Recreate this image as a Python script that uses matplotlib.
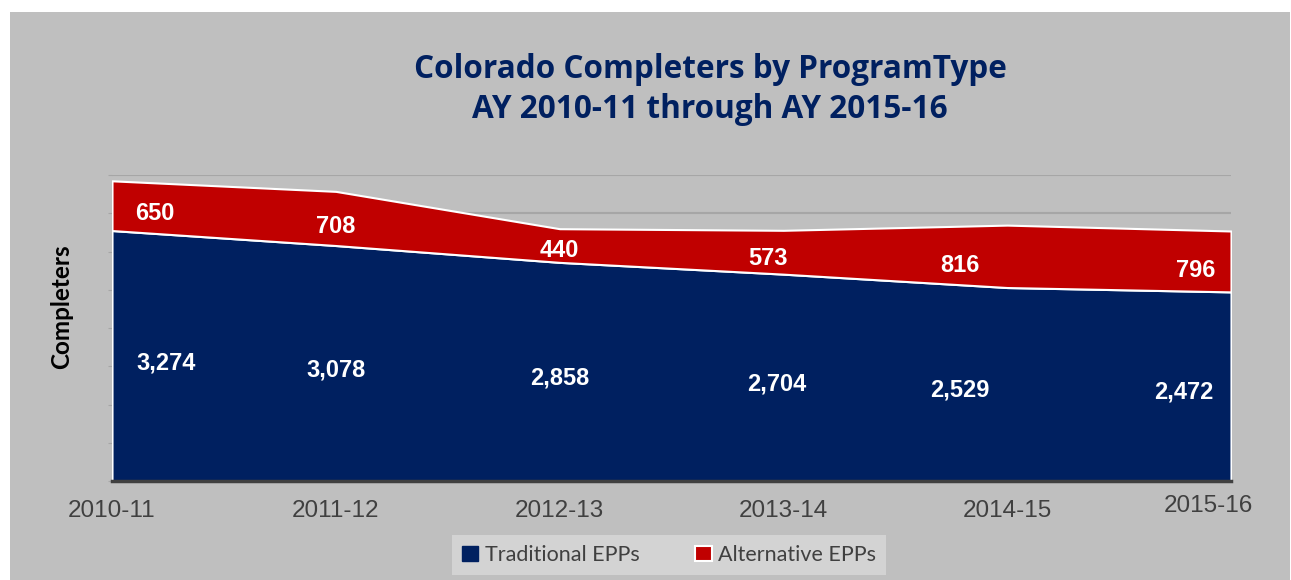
import matplotlib
matplotlib.use("Agg")
import matplotlib.pyplot as plt
import matplotlib.transforms as mtransforms
from matplotlib.patches import Rectangle
import numpy as np

# data
years = ["2010-11", "2011-12", "2012-13", "2013-14", "2014-15", "2015-16"]
traditional = [3274, 3078, 2858, 2704, 2529, 2472]
alternative = [650, 708, 440, 573, 816, 796]

# label nudges (in category units) to mimic Excel's placement
trad_dx = [0.24, 0.0, 0.0, -0.03, -0.21, -0.21]
alt_dx = [0.19, 0.0, 0.0, -0.07, -0.21, -0.16]

navy = "#002060"
red = "#C00000"
bg = "#BFBFBF"
txt = "#404040"

W, H = 1291, 580
fig = plt.figure(figsize=(W / 100, H / 100), dpi=100)
fig.patch.set_facecolor("white")
fig.patches.append(Rectangle((10 / W, 0), 1280 / W, 568 / H, transform=fig.transFigure,
                             facecolor=bg, edgecolor="none", zorder=-10))

ax = fig.add_axes([112 / W, (H - 481) / H, (1231 - 112) / W, (481 - 175) / H])
ax.set_facecolor(bg)
ax.patch.set_alpha(0)

x = np.arange(len(years))
trad = np.array(traditional)
alt = np.array(alternative)

ax.fill_between(x, 0, trad, facecolor=navy, edgecolor="white", linewidth=1.5, zorder=2,
                label="Traditional EPPs")
ax.fill_between(x, trad, trad + alt, facecolor=red, edgecolor="white", linewidth=1.5, zorder=2,
                label="Alternative EPPs")

ax.set_xlim(0, len(years) - 1)
ax.set_ylim(0, 4000)
ax.set_yticks(np.arange(0, 4001, 500))
ax.yaxis.grid(True, color="#A6A6A6", linewidth=1.5, zorder=0)
ax.set_axisbelow(True)
ax.tick_params(axis="y", labelleft=False, length=3, color="#A6A6A6")
ax.tick_params(axis="x", length=0, pad=14, labelsize=17.5, labelcolor=txt)
ax.set_xticks(x)
ax.set_xticklabels(years, fontfamily="Liberation Sans")

for s in ["top", "right", "left"]:
    ax.spines[s].set_visible(False)
ax.spines["bottom"].set_color(txt)
ax.spines["bottom"].set_linewidth(2.5)
ax.spines["bottom"].set_zorder(3)

# last tick label sits a bit left and higher in the reference
last = ax.get_xticklabels()[-1]
last.set_transform(last.get_transform() + mtransforms.ScaledTranslation(-0.23, 0.05, fig.dpi_scale_trans))

for i in range(len(years)):
    ax.text(x[i] + trad_dx[i], trad[i] * 0.47, f"{traditional[i]:,}", color="white",
            fontsize=17, fontweight="bold", fontfamily="Liberation Sans",
            ha="center", va="center", zorder=4)
    ax.text(x[i] + alt_dx[i], trad[i] + alt[i] * 0.35, f"{alternative[i]:,}", color="white",
            fontsize=17, fontweight="bold", fontfamily="Liberation Sans",
            ha="center", va="center", zorder=4)

fig.text(62 / W, 1 - 307 / H, "Completers", rotation=90, ha="center", va="center",
         fontsize=17.5, fontweight="bold", fontfamily="Lato", color="black")

fig.text(710 / W, 1 - 70 / H, "Colorado Completers by ProgramType", ha="center", va="center",
         fontsize=22.7, fontweight="bold", fontfamily="Open Sans", color=navy)
fig.text(710 / W, 1 - 109 / H, "AY 2010-11 through AY 2015-16", ha="center", va="center",
         fontsize=22.7, fontweight="bold", fontfamily="Open Sans", color=navy)

handles = [Rectangle((0, 0), 1, 1, facecolor=navy, edgecolor=navy),
           Rectangle((0, 0), 1, 1, facecolor=red, edgecolor="white", linewidth=1.5)]
leg = fig.legend(handles, ["Traditional EPPs", "Alternative EPPs"], loc="center",
                 bbox_to_anchor=(669 / W, 1 - 555 / H), ncol=2, frameon=True, fancybox=False,
                 facecolor="#D3D3D3", edgecolor="none", framealpha=1,
                 prop={"family": "Lato", "size": 15.5}, handlelength=0.75, handleheight=0.75,
                 handletextpad=0.3, columnspacing=2.6, borderpad=0.45, borderaxespad=0)
for t in leg.get_texts():
    t.set_color(txt)

fig.savefig("out.png", dpi=100, facecolor=fig.get_facecolor())
